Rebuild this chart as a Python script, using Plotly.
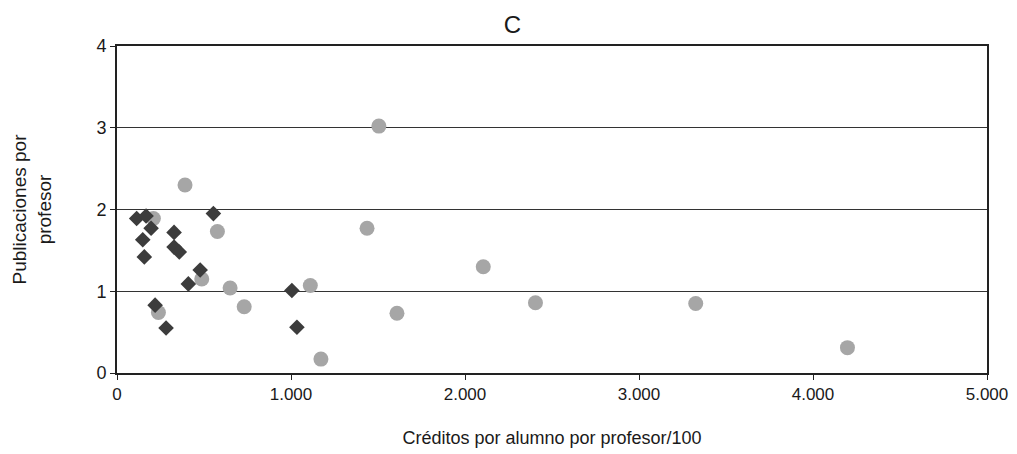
import plotly.graph_objects as go

# Light gray circles
circle_x = [391, 209, 577, 487, 650, 731, 1111, 238, 1437, 2105, 1609, 1172, 2405, 1505, 3326, 4198]
circle_y = [2.30, 1.89, 1.73, 1.15, 1.04, 0.81, 1.07, 0.74, 1.77, 1.30, 0.73, 0.17, 0.86, 3.02, 0.85, 0.31]

# Dark diamonds
diamond_x = [113, 167, 196, 148, 157, 554, 328, 328, 358, 478, 410, 219, 282, 1005, 1034]
diamond_y = [1.89, 1.92, 1.77, 1.63, 1.42, 1.95, 1.72, 1.54, 1.48, 1.26, 1.09, 0.83, 0.55, 1.01, 0.56]

x_tickvals = [0, 1000, 2000, 3000, 4000, 5000]
x_ticktext = ["0", "1.000", "2.000", "3.000", "4.000", "5.000"]
y_tickvals = [0, 1, 2, 3, 4]
y_ticktext = ["0", "1", "2", "3", "4"]

title_text = "C"
x_title = "Créditos por alumno por profesor/100"
y_title = "Publicaciones por<br>profesor"

font_family = "Liberation Sans, Arial, sans-serif"

fig = go.Figure()
fig.add_trace(go.Scatter(
    x=circle_x, y=circle_y, mode="markers",
    marker=dict(symbol="circle", size=15, color="#a6a6a6", line=dict(width=0)),
    showlegend=False, cliponaxis=False,
))
fig.add_trace(go.Scatter(
    x=diamond_x, y=diamond_y, mode="markers",
    marker=dict(symbol="diamond", size=12, color="#3c3c3c", line=dict(width=0)),
    showlegend=False, cliponaxis=False,
))

# The page body adds an 8px margin, so the figure is sized to fit the window.
fig.update_layout(
    width=1009, height=446,
    margin=dict(l=109, r=30, t=38, b=81),
    paper_bgcolor="white", plot_bgcolor="white",
    font=dict(family=font_family, color="#1a1a1a", size=16),
    title=dict(text=title_text, x=0.5, xanchor="center", y=0.962, yanchor="middle",
               font=dict(size=24, family=font_family, color="#1a1a1a")),
)
fig.update_xaxes(
    range=[0, 5000], tickvals=x_tickvals, ticktext=x_ticktext,
    showgrid=False, zeroline=False, automargin=False,
    showline=True, linecolor="#222222", linewidth=1.5, mirror=True,
    ticks="outside", ticklen=5, tickcolor="#222222", tickwidth=1,
    tickfont=dict(size=17),
    title=dict(text=x_title, font=dict(size=18), standoff=28),
)
fig.update_yaxes(
    range=[0, 4], tickvals=y_tickvals, ticktext=y_ticktext,
    showgrid=True, gridcolor="#333333", gridwidth=1, zeroline=False, automargin=False,
    showline=True, linecolor="#222222", linewidth=2, mirror=True,
    ticks="outside", ticklen=5, tickcolor="#222222", tickwidth=1,
    tickfont=dict(size=18),
    title=dict(text=y_title, font=dict(size=19), standoff=40),
)

fig.write_html("out.html")
